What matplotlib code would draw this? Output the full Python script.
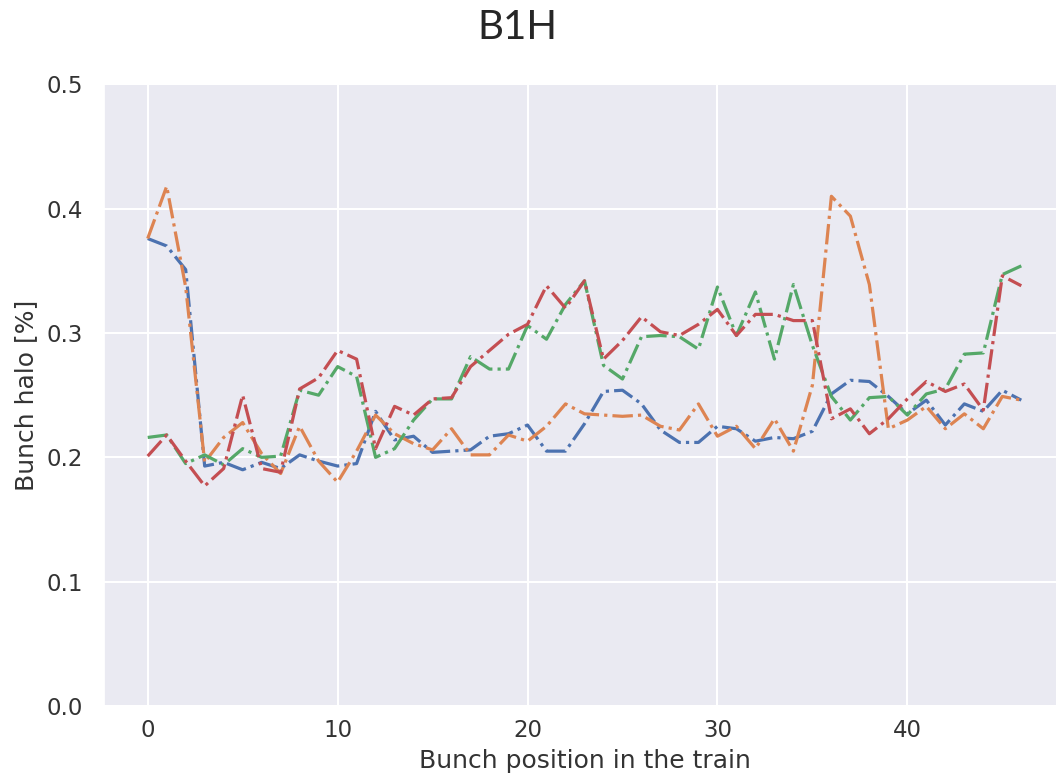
import matplotlib
matplotlib.use("Agg")
import matplotlib.pyplot as plt
import seaborn as sns

# Bunch halo per bunch slot, four scans of beam 1 horizontal
positions = list(range(47))

halo_blue = [0.376, 0.370, 0.351, 0.193, 0.196, 0.190, 0.196, 0.191, 0.202, 0.197,
             0.193, 0.195, 0.237, 0.214, 0.217, 0.204, 0.205, 0.206, 0.217, 0.219,
             0.226, 0.205, 0.205, 0.227, 0.253, 0.254, 0.243, 0.222, 0.212, 0.212,
             0.225, 0.223, 0.213, 0.216, 0.215, 0.221, 0.251, 0.262, 0.261, 0.249,
             0.235, 0.246, 0.226, 0.243, 0.237, 0.254, 0.246]

halo_orange = [0.376, 0.418, 0.337, 0.196, 0.216, 0.228, 0.203, 0.187, 0.225, 0.197,
               0.180, 0.205, 0.234, 0.219, 0.211, 0.206, 0.223, 0.202, 0.202, 0.218,
               0.213, 0.225, 0.243, 0.235, 0.234, 0.233, 0.234, 0.225, 0.222, 0.243,
               0.217, 0.225, 0.207, 0.231, 0.205, 0.258, 0.410, 0.394, 0.339, 0.223,
               0.230, 0.241, 0.223, 0.235, 0.223, 0.249, 0.246]

halo_green = [0.216, 0.218, 0.195, 0.202, 0.194, 0.207, 0.200, 0.201, 0.254, 0.250,
              0.273, 0.265, 0.200, 0.207, 0.230, 0.247, 0.247, 0.281, 0.271, 0.271,
              0.306, 0.295, 0.323, 0.342, 0.274, 0.263, 0.297, 0.298, 0.297, 0.287,
              0.337, 0.298, 0.333, 0.279, 0.339, 0.290, 0.249, 0.230, 0.248, 0.249,
              0.234, 0.251, 0.255, 0.283, 0.284, 0.347, 0.354]

halo_red = [0.201, 0.218, 0.197, 0.177, 0.191, 0.250, 0.191, 0.188, 0.255, 0.264,
            0.286, 0.279, 0.207, 0.241, 0.234, 0.247, 0.248, 0.273, 0.286, 0.299,
            0.307, 0.338, 0.320, 0.342, 0.279, 0.294, 0.313, 0.301, 0.298, 0.307,
            0.319, 0.298, 0.315, 0.315, 0.310, 0.310, 0.231, 0.239, 0.219, 0.231,
            0.247, 0.261, 0.253, 0.259, 0.238, 0.346, 0.338]

sns.set_theme(style="darkgrid", rc={"grid.linewidth": 1.5})

fig = plt.figure(figsize=(10.56, 7.81), dpi=100)
# plot area runs off the right edge of the canvas
ax = fig.add_axes([0.0985, 0.096, 0.910, 0.796])

for vals in (halo_blue, halo_orange, halo_green, halo_red):
    ax.plot(positions, vals, linestyle="-.", linewidth=2.3)

ax.set_ylim(0, 0.5)
ax.set_xticks([0, 10, 20, 30, 40])
ax.set_yticks([0.0, 0.1, 0.2, 0.3, 0.4, 0.5])
ax.set_yticklabels(["0.0", "0.1", "0.2", "0.3", "0.4", "0.5"])
ax.tick_params(labelsize=16.5, colors="#333333")
ax.tick_params(axis="y", pad=9)
ax.set_xlabel("Bunch position in the train", fontsize=18, color="#333333", labelpad=5)
ax.set_ylabel("Bunch halo [%]", fontsize=18, color="#333333", labelpad=6)

fig.text(0.49, 0.965, "B1H", fontsize=29, family=["Lato", "DejaVu Sans"],
         ha="center", va="center")

fig.savefig("out.png", dpi=100, facecolor="white")
